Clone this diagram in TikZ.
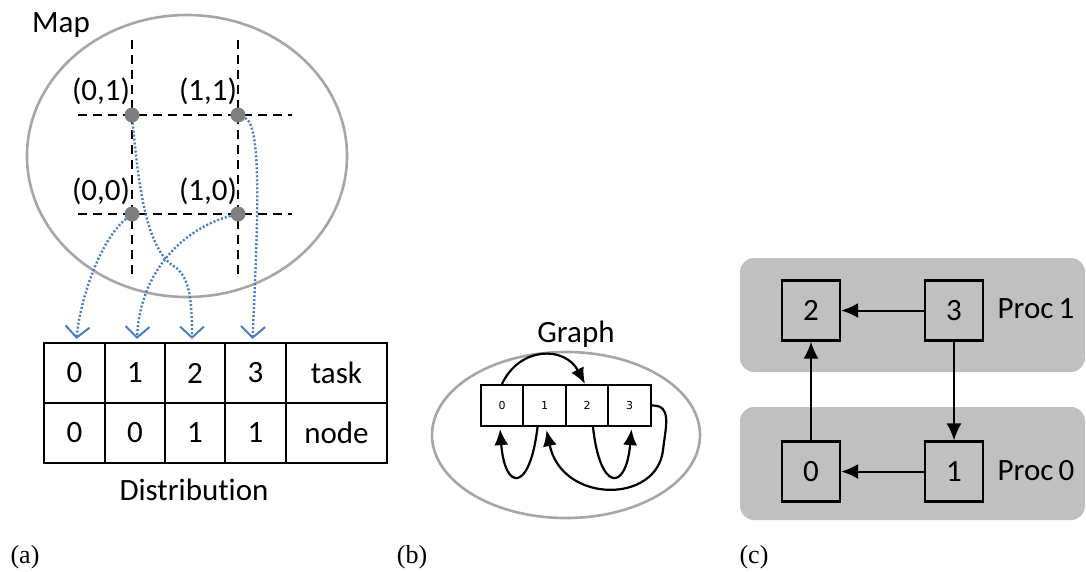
\documentclass[tikz,border=0pt]{standalone}
\usepackage{fontspec}
\setmainfont[Ligatures=NoCommon]{Carlito}
\newfontfamily\capfont{Liberation Serif}
\newfontfamily\gfont{DejaVu Sans}
\usetikzlibrary{arrows.meta,shapes.geometric}
\definecolor{ellgray}{HTML}{A6A6A6}
\definecolor{dotgray}{HTML}{7F7F7F}
\definecolor{blu}{HTML}{4A7EBB}
\definecolor{procgray}{HTML}{C0C0C0}
\begin{document}
\begin{tikzpicture}[x=1pt,y=-1pt,
  txt/.style={font=\fontsize{31}{31}\selectfont, inner sep=0},
  btxt/.style={font=\fontsize{31}{31}\selectfont, inner sep=0, anchor=base},
  cell/.style={draw, line width=2.2pt, minimum height=60pt, inner sep=0, font=\fontsize{31}{31}\selectfont},
  gcell/.style={draw, line width=2.2pt, minimum width=42.5pt, minimum height=41pt, inner sep=0, font=\gfont\fontsize{11}{11}\selectfont},
  pbox/.style={draw, line width=2.2pt, minimum width=58pt, minimum height=60pt, inner sep=0, font=\fontsize{31}{31}\selectfont},
  gridline/.style={dash pattern=on 9pt off 6pt, line width=2.2pt},
  mapto/.style={blu, line width=2.4pt, dash pattern=on 2pt off 2pt, -{Straight Barb[length=11pt,width=24pt,line width=2pt]}},
  garr/.style={line width=2.2pt, -{Latex[length=16pt,width=14pt]}},
  parr/.style={line width=2pt, -{Latex[length=17pt,width=15pt]}},
  gdot/.style={circle, fill=dotgray, minimum size=15pt, inner sep=0},
  captxt/.style={font=\capfont\fontsize{26}{26}\selectfont, anchor=base, inner sep=0},
  procbg/.style={fill=procgray, rounded corners=14pt, inner sep=0},
  oval/.style={ellipse, draw=ellgray, line width=2.6pt, inner sep=0}
]
\useasboundingbox (0,0) rectangle (1086,571);

% ---------------- (a) Map ----------------
\node[oval, minimum width=320pt, minimum height=282pt] (map) at (187,156) {};
\node[btxt] (maplbl) at (61,32) {Map};
\draw[gridline] (132,40) -- (132,275);
\draw[gridline] (238,40) -- (238,275);
\draw[gridline] (78,115) -- (292,115);
\draw[gridline] (78,214) -- (292,214);

% table
\node[cell, minimum width=61pt] (t0) at (74.5,373) {0};
\node[cell, minimum width=60pt] (t1) at (135,373) {1};
\node[cell, minimum width=60pt] (t2) at (195,373) {2};
\node[cell, minimum width=61pt] (t3) at (255.5,373) {3};
\node[cell, minimum width=101pt] (t4) at (336.5,373) {task};
\node[cell, minimum width=61pt] (n0) at (74.5,433) {0};
\node[cell, minimum width=60pt] (n1) at (135,433) {0};
\node[cell, minimum width=60pt] (n2) at (195,433) {1};
\node[cell, minimum width=61pt] (n3) at (255.5,433) {1};
\node[cell, minimum width=101pt] (n4) at (336.5,433) {node};
\node[btxt] (distlbl) at (194,500) {Distribution};

% dots
\node[gdot] (d01) at (132,115) {};
\node[gdot] (d11) at (238,115) {};
\node[gdot] (d00) at (132,214) {};
\node[gdot] (d10) at (238,214) {};
\node[btxt] (l01) at (101,100) {(0,1)};
\node[btxt] (l11) at (208,100) {(1,1)};
\node[btxt] (l00) at (101,200) {(0,0)};
\node[btxt] (l10) at (208,200) {(1,0)};

% blue mapping curves
\draw[mapto] (d00) .. controls (100,240) and (80,300) .. ([xshift=2pt,yshift=3pt]t0.north);
\draw[mapto] (d01) .. controls (138,180) and (145,245) .. (172,265) .. controls (190,275) and (192,300) .. ([xshift=-3pt,yshift=3pt]t2.north);
\draw[mapto] (d10) .. controls (185,228) and (140,270) .. ([xshift=2pt,yshift=3pt]t1.north);
\draw[mapto] (d11) .. controls (262,125) and (258,220) .. ([xshift=-3pt,yshift=3pt]t3.north);

% ---------------- (b) Graph ----------------
\node[oval, minimum width=268pt, minimum height=166pt] (gell) at (566,435) {};
\node[btxt] (graphlbl) at (576,342) {Graph};
\node[gcell] (g0) at (502,405.5) {0};
\node[gcell] (g1) at (544.5,405.5) {1};
\node[gcell] (g2) at (587,405.5) {2};
\node[gcell] (g3) at (629.5,405.5) {3};
\draw[garr] (g0.north) .. controls (520,346) and (565,346) .. ([xshift=-2pt]g2.north);
\draw[garr] ([xshift=-7pt]g1.south) .. controls (530,492) and (505,492) .. ([xshift=-2pt,yshift=-2pt]g0.south);
\draw[garr] ([xshift=6pt]g2.south) .. controls (600,492) and (626,492) .. ([xshift=2pt,yshift=-2pt]g3.south);
\draw[garr] (g3.east) .. controls (672,405) and (666,425) .. (663,450) .. controls (657,504) and (562,504) .. ([xshift=2pt,yshift=-3pt]g1.south);

% ---------------- (c) Processors ----------------
\node[procbg, minimum width=345pt, minimum height=114pt] (proc1) at (912.5,315) {};
\node[procbg, minimum width=345pt, minimum height=113pt] (proc0) at (912.5,463.5) {};
\node[pbox] (p2) at (811,310.5) {2};
\node[pbox] (p3) at (954,310.5) {3};
\node[pbox] (p0) at (811,471.5) {0};
\node[pbox] (p1) at (954,471.5) {1};
\node[txt] (proc1lbl) at (1036,309) {Proc\,1};
\node[txt] (proc0lbl) at (1036,471) {Proc\,0};
\draw[parr] (p3.west) -- (p2.east);
\draw[parr] (p3.south) -- (p1.north);
\draw[parr] (p0.north) -- (p2.south);
\draw[parr] (p1.west) -- (p0.east);

% captions
\node[captxt] (capa) at (25,563) {(a)};
\node[captxt] (capb) at (412,563) {(b)};
\node[captxt] (capc) at (754,563) {(c)};
\end{tikzpicture}
\end{document}
